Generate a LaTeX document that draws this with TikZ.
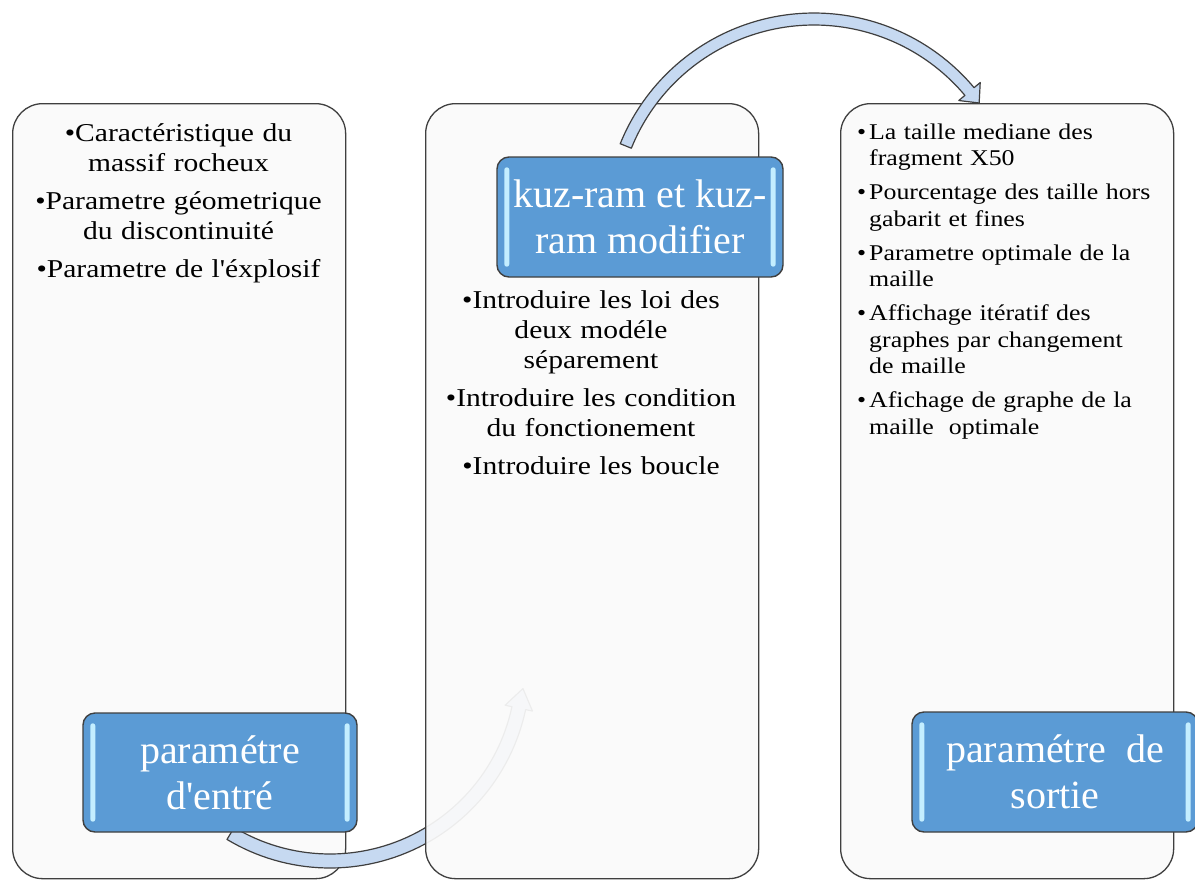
\documentclass[tikz,border=0pt]{standalone}
\usepackage{fontspec}
\setmainfont{Liberation Serif}
\font\boxfnt="Liberation Serif" at 40pt
\font\pfnt="Liberation Serif:extend=1.15" at 25.7pt
\font\rfnt="Liberation Serif:extend=1.15" at 22.5pt
\usetikzlibrary{calc}
\definecolor{boxblue}{HTML}{5B9BD5}
\definecolor{edgegray}{HTML}{3F3F3F}
\definecolor{panelfill}{HTML}{FAFAFA}
\definecolor{arrowfill}{HTML}{C6D9F1}
\definecolor{hilite}{HTML}{C4EEFF}
\begin{document}
\begin{tikzpicture}[x=1pt,y=-1pt,
  panel/.style={draw=edgegray, line width=1.3pt, fill=panelfill, rounded corners=30pt,
    minimum width=333pt, minimum height=775pt, anchor=north west, inner sep=0pt},
  bluebox/.style={draw=edgegray, line width=1.4pt, fill=boxblue, rounded corners=12pt,
    text=white, font=\fontsize{40}{46}\selectfont\boxfnt, align=center, inner sep=0pt},
  hibar/.style={fill=hilite, rounded corners=2.5pt},
  ptext/.style={font=\fontsize{25.7}{30}\selectfont\pfnt, text=black, inner sep=0pt},
  rtext/.style={font=\fontsize{22.5}{26.5}\selectfont\rfnt, text=black, inner sep=0pt},
  curvearrow/.style={draw=edgegray, line width=1.2pt, fill=arrowfill, line join=round}
]
\clip (0,0) rectangle (1195,879);
\fill[white] (0,0) rectangle (1195,879);

% left panel
\node[panel] (p1) at (12,103) {};
\node[ptext, text width=320pt, align=center, anchor=base] (t1) at (178.5,141)
  {•Caractéristique du\\massif rocheux\\[8pt]•Parametre géometrique\\du discontinuité\\[8pt]•Parametre de l'éxplosif};

% bottom curved arrow (from input box to middle panel)
\coordinate (cb) at (330,668);
\draw[curvearrow]
  plot[domain=121:12, samples=60, variable=\t] ({330+200*cos(\t)},{668+200*sin(\t)})
  -- ({330+207*cos(12)},{668+207*sin(12)})
  -- ({330+193*cos(12)+20*sin(12)},{668+193*sin(12)-20*cos(12)})
  -- ({330+179*cos(12)},{668+179*sin(12)})
  -- plot[domain=12:121, samples=60, variable=\t] ({330+186*cos(\t)},{668+186*sin(\t)})
  -- cycle;

% input box
\node[bluebox, minimum width=274pt, minimum height=119pt] (b1) at (220,772.5) {paramétre\\d'entré};

% middle panel
\node[panel, fill opacity=0.93, text opacity=1] (p2) at (425,103) {};
\node[ptext, text width=320pt, align=center, anchor=base] (t2) at (591,308)
  {•Introduire les loi des\\deux modéle\\séparement\\[8pt]•Introduire les condition\\du fonctionement\\[8pt]•Introduire les boucle};
\node[bluebox, minimum width=286pt, minimum height=120pt] (b2) at (640,217) {kuz-ram et kuz-\\ram modifier};

% right panel
\node[panel] (p3) at (840,103) {};
\node[rtext, text width=320pt, align=left, anchor=base west] (t3) at (857,139)
  {\makebox[12pt][l]{•}La taille mediane des\\
   \hspace*{12pt}fragment X50\\[7.5pt]
   \makebox[12pt][l]{•}Pourcentage des taille hors\\
   \hspace*{12pt}gabarit et fines\\[7.5pt]
   \makebox[12pt][l]{•}Parametre optimale de la\\
   \hspace*{12pt}maille\\[7.5pt]
   \makebox[12pt][l]{•}Affichage itératif des\\
   \hspace*{12pt}graphes par changement\\
   \hspace*{12pt}de maille\\[7.5pt]
   \makebox[12pt][l]{•}Afichage de graphe de la\\
   \hspace*{12pt}maille\ \ optimale};
\node[bluebox, minimum width=286pt, minimum height=120pt] (b3) at (1055,772) {paramétre\ \ de\\sortie};

% highlight bars in the blue boxes
\foreach \b in {b1,b2,b3}{
  \fill[hibar] ($(\b.north west)+(8,11)$) rectangle ($(\b.south west)+(13,-11)$);
  \fill[hibar] ($(\b.north east)+(-13,11)$) rectangle ($(\b.south east)+(-8,-11)$);
}

% top curved arrow (from middle box to output panel)
\coordinate (ct) at (814,222);
\draw[curvearrow]
  plot[domain=202:320, samples=80, variable=\t] ({814+209*cos(\t)},{222+209*sin(\t)})
  -- ({814+217*cos(320)},{222+217*sin(320)})
  -- ({814+203*cos(320)-15*sin(320)},{222+203*sin(320)+15*cos(320)})
  -- ({814+189*cos(320)},{222+189*sin(320)})
  -- plot[domain=320:202, samples=80, variable=\t] ({814+197*cos(\t)},{222+197*sin(\t)})
  -- cycle;
\end{tikzpicture}
\end{document}
